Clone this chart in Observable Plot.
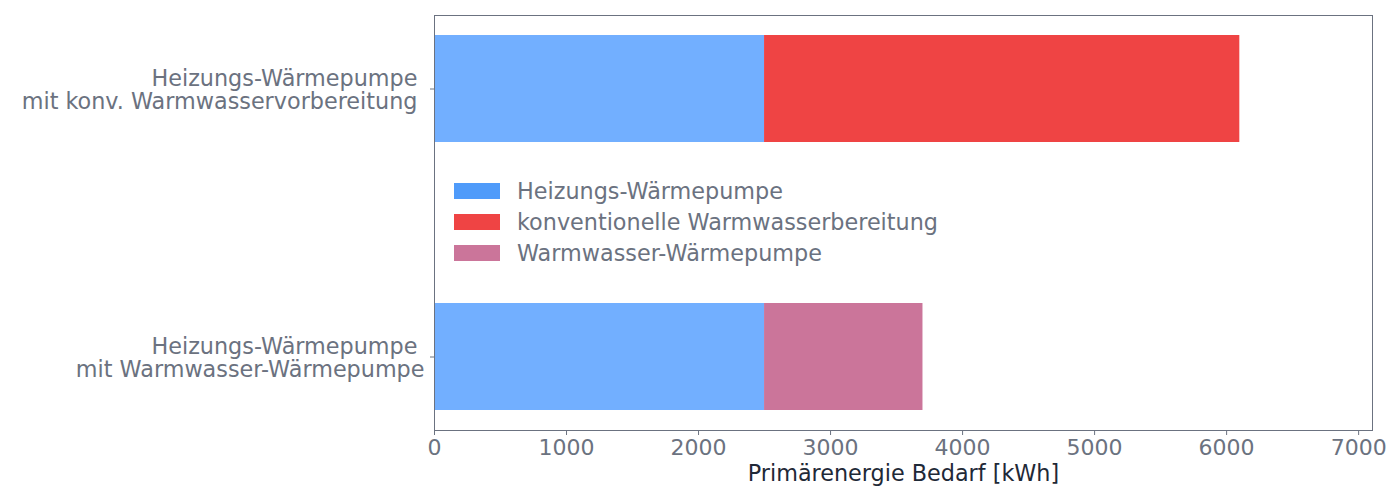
<!DOCTYPE html>
<html>
<head>
<meta charset="utf-8">
<script src="https://cdn.jsdelivr.net/npm/d3@7"></script>
<script src="https://cdn.jsdelivr.net/npm/@observablehq/plot@0.6"></script>
<style>
  html, body { margin: 0; padding: 0; background: white; }
  #wrap { position: relative; width: 1400px; height: 500px; font-family: "DejaVu Sans", sans-serif; }
  #legend { position: absolute; left: 454px; top: 175px; font-size: 22.3px; color: #6b7280; }
  .row { display: flex; align-items: center; height: 31px; }
  .sw { width: 46px; height: 16px; margin-right: 17px; }
</style>
</head>
<body>
<div id="wrap"><div id="legend"></div></div>
<script>
const categories = [
  "Heizungs-Wärmepumpe\u00a0\nmit konv. Warmwasservorbereitung\u00a0",
  "Heizungs-Wärmepumpe\u00a0\nmit Warmwasser-Wärmepumpe"
];
const series = ["Heizungs-Wärmepumpe", "konventionelle Warmwasserbereitung", "Warmwasser-Wärmepumpe"];
const heizungWP = [2500, 2500];
const konvWW = [3600, 0];
const wwWP = [0, 1200];
const barColors = ["#72afff", "#ef4444", "#cb759a"];
const legendColors = ["#4f9bfa", "#ef4444", "#cb759a"];
const xTicks = [0, 1000, 2000, 3000, 4000, 5000, 6000, 7000];
const xLabel = "Primärenergie Bedarf [kWh]";

const values = [heizungWP, konvWW, wwWP];
const data = [];
categories.forEach((c, i) => {
  series.forEach((s, j) => {
    if (values[j][i] > 0) data.push({cat: c, series: s, value: values[j][i]});
  });
});

const chart = Plot.plot({
  width: 1400,
  height: 500,
  marginLeft: 434,
  marginRight: 28,
  marginTop: 15,
  marginBottom: 70,
  style: {fontFamily: "DejaVu Sans", fontSize: "22px", color: "#6b7280", background: "white"},
  x: {domain: [0, 7105], ticks: xTicks, tickFormat: d3.format("d"), tickSize: 5, tickPadding: 4, label: null},
  y: {domain: categories, paddingInner: 0.6, paddingOuter: 0.0714, tickSize: 4, tickFormat: () => "", label: null},
  color: {domain: series, range: barColors},
  marks: [
    Plot.barX(data, {x: "value", y: "cat", fill: "series"}),
    Plot.frame({stroke: "#6b7280", strokeWidth: 1}),
    Plot.text(categories, {y: d => d, text: d => d, frameAnchor: "left", dx: -10, dy: 1, textAnchor: "end", lineHeight: 1.04, fill: "#6b7280", fontSize: 22.3}),
    Plot.text([xLabel], {text: d => d, frameAnchor: "bottom", dy: 50, fill: "#1f2937", fontSize: 22.3})
  ]
});
document.getElementById("wrap").prepend(chart);

const legend = document.getElementById("legend");
series.forEach((s, i) => {
  const row = document.createElement("div");
  row.className = "row";
  const sw = document.createElement("div");
  sw.className = "sw";
  sw.style.background = legendColors[i];
  const t = document.createElement("span");
  t.textContent = s;
  row.append(sw, t);
  legend.append(row);
});
</script>
</body>
</html>
